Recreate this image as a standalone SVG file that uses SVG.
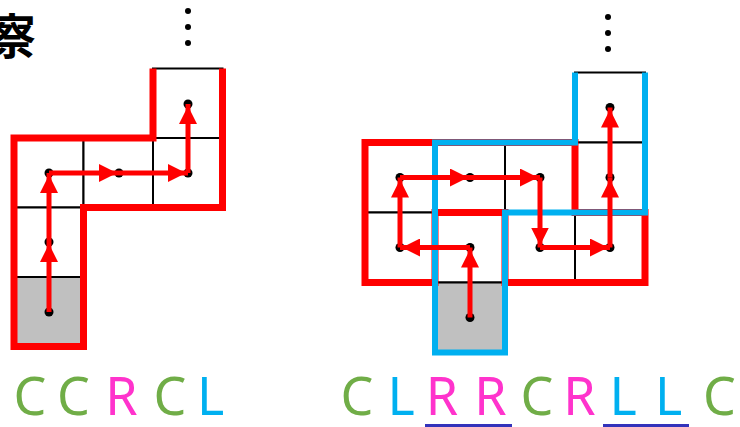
<svg xmlns="http://www.w3.org/2000/svg" width="740" height="427" viewBox="0 0 740 427">
<style>
.cell{fill:#fff;stroke:#000;stroke-width:2}
.gray{fill:#c0c0c0;stroke:#000;stroke-width:2}
.red{fill:none;stroke:#ff0000;stroke-width:7;stroke-linejoin:miter}
.blue{fill:none;stroke:#00b0f0;stroke-width:6;stroke-linejoin:miter}
.arr{stroke:#ff0000;stroke-width:5;fill:none;marker-end:url(#ah)}
.dot{fill:#000}
.lt{font-family:"Noto Sans","Liberation Sans",sans-serif;font-size:52px;text-anchor:middle}
.g{fill:#70ad47}.p{fill:#ff33cc}.b{fill:#00b0f0}
.ul{fill:#3333bb}
</style>
<defs>
<marker id="ah" markerUnits="userSpaceOnUse" markerWidth="20" markerHeight="18" refX="20" refY="9" orient="auto" viewBox="0 0 20 18">
<path d="M0,0 L18,9 L0,18 z" fill="#ff0000"/>
</marker>
</defs>
<text x="-12" y="54" font-family="'Noto Sans CJK JP',sans-serif" font-weight="bold" font-size="48" fill="#000">察</text>
<g id="left-ellipsis" class="dot"><circle cx="188" cy="11" r="3"/><circle cx="188" cy="27" r="3"/><circle cx="188" cy="43" r="3"/></g>
<g id="right-ellipsis" class="dot"><circle cx="608" cy="17" r="3"/><circle cx="608" cy="33" r="3"/><circle cx="608" cy="49" r="3"/></g>
<g id="left-grid">
<rect class="cell" x="153" y="68.5" width="69.5" height="69.5"/>
<rect class="cell" x="14" y="138" width="69.5" height="69.5"/>
<rect class="cell" x="83.5" y="138" width="69.5" height="69.5"/>
<rect class="cell" x="153" y="138" width="69.5" height="69.5"/>
<rect class="cell" x="14" y="207.5" width="69.5" height="69.5"/>
<rect class="gray" x="14" y="277" width="69.5" height="69.5"/>
<path class="red" d="M153,68.5 V138 H14 V346.5 H83.5 V207.5 H222.5 V68.5"/>
</g>
<g id="right-grid">
<rect class="cell" x="575" y="72.5" width="70" height="70"/>
<rect class="cell" x="365" y="142.5" width="70" height="70"/>
<rect class="cell" x="435" y="142.5" width="70" height="70"/>
<rect class="cell" x="505" y="142.5" width="70" height="70"/>
<rect class="cell" x="575" y="142.5" width="70" height="70"/>
<rect class="cell" x="365" y="212.5" width="70" height="70"/>
<rect class="cell" x="435" y="212.5" width="70" height="70"/>
<rect class="cell" x="505" y="212.5" width="70" height="70"/>
<rect class="cell" x="575" y="212.5" width="70" height="70"/>
<rect class="gray" x="435" y="282.5" width="70" height="70"/>
<path class="red" d="M365,142.5 H575 V212.5 H645 V282.5 H505 V212.5 H435 V282.5 H365 Z"/>
<path class="blue" d="M575,72.5 V142.5 H435 V352.5 H505 V212.5 H645 V72.5"/>
</g>
<g id="left-dots" class="dot">
<circle cx="49" cy="312" r="4.5"/><circle cx="49" cy="242" r="4.5"/><circle cx="49" cy="173" r="4.5"/>
<circle cx="119" cy="173" r="4.5"/><circle cx="188" cy="173" r="4.5"/><circle cx="188" cy="104" r="4.5"/>
</g>
<g id="right-dots" class="dot">
<circle cx="470" cy="317.5" r="4.5"/><circle cx="470" cy="247.5" r="4.5"/><circle cx="400" cy="247.5" r="4.5"/>
<circle cx="400" cy="177.5" r="4.5"/><circle cx="470" cy="177.5" r="4.5"/><circle cx="540" cy="177.5" r="4.5"/>
<circle cx="540" cy="247.5" r="4.5"/><circle cx="610" cy="247.5" r="4.5"/><circle cx="610" cy="177.5" r="4.5"/>
<circle cx="610" cy="107.5" r="4.5"/>
</g>
<g id="connectors">
<line class="arr" x1="49" y1="312" x2="49" y2="242"/>
<line class="arr" x1="49" y1="242" x2="49" y2="173"/>
<line class="arr" x1="49" y1="173" x2="119" y2="173"/>
<line class="arr" x1="119" y1="173" x2="188" y2="173"/>
<line class="arr" x1="188" y1="173" x2="188" y2="104"/>
<line class="arr" x1="470" y1="317.5" x2="470" y2="247.5"/>
<line class="arr" x1="470" y1="247.5" x2="400" y2="247.5"/>
<line class="arr" x1="400" y1="247.5" x2="400" y2="177.5"/>
<line class="arr" x1="400" y1="177.5" x2="470" y2="177.5"/>
<line class="arr" x1="470" y1="177.5" x2="540" y2="177.5"/>
<line class="arr" x1="540" y1="177.5" x2="540" y2="247.5"/>
<line class="arr" x1="540" y1="247.5" x2="610" y2="247.5"/>
<line class="arr" x1="610" y1="247.5" x2="610" y2="177.5"/>
<line class="arr" x1="610" y1="177.5" x2="610" y2="107.5"/>
</g>
<g id="left-sequence" class="lt">
<text class="g" x="30" y="415">C</text>
<text class="g" x="73.5" y="415">C</text>
<text class="p" x="121.5" y="415">R</text>
<text class="g" x="170" y="415">C</text>
<text class="b" x="210.5" y="415">L</text>
</g>
<g id="right-sequence" class="lt">
<text class="g" x="357" y="415">C</text>
<text class="b" x="401" y="415">L</text>
<text class="p" x="442" y="415">R</text>
<text class="p" x="490.5" y="415">R</text>
<text class="g" x="537" y="415">C</text>
<text class="p" x="579.5" y="415">R</text>
<text class="b" x="623" y="415">L</text>
<text class="b" x="668.5" y="415">L</text>
<text class="g" x="719.5" y="415">C</text>
<rect class="ul" x="425" y="424" width="87" height="3"/>
<rect class="ul" x="603" y="424" width="86" height="3"/>
</g>
</svg>
